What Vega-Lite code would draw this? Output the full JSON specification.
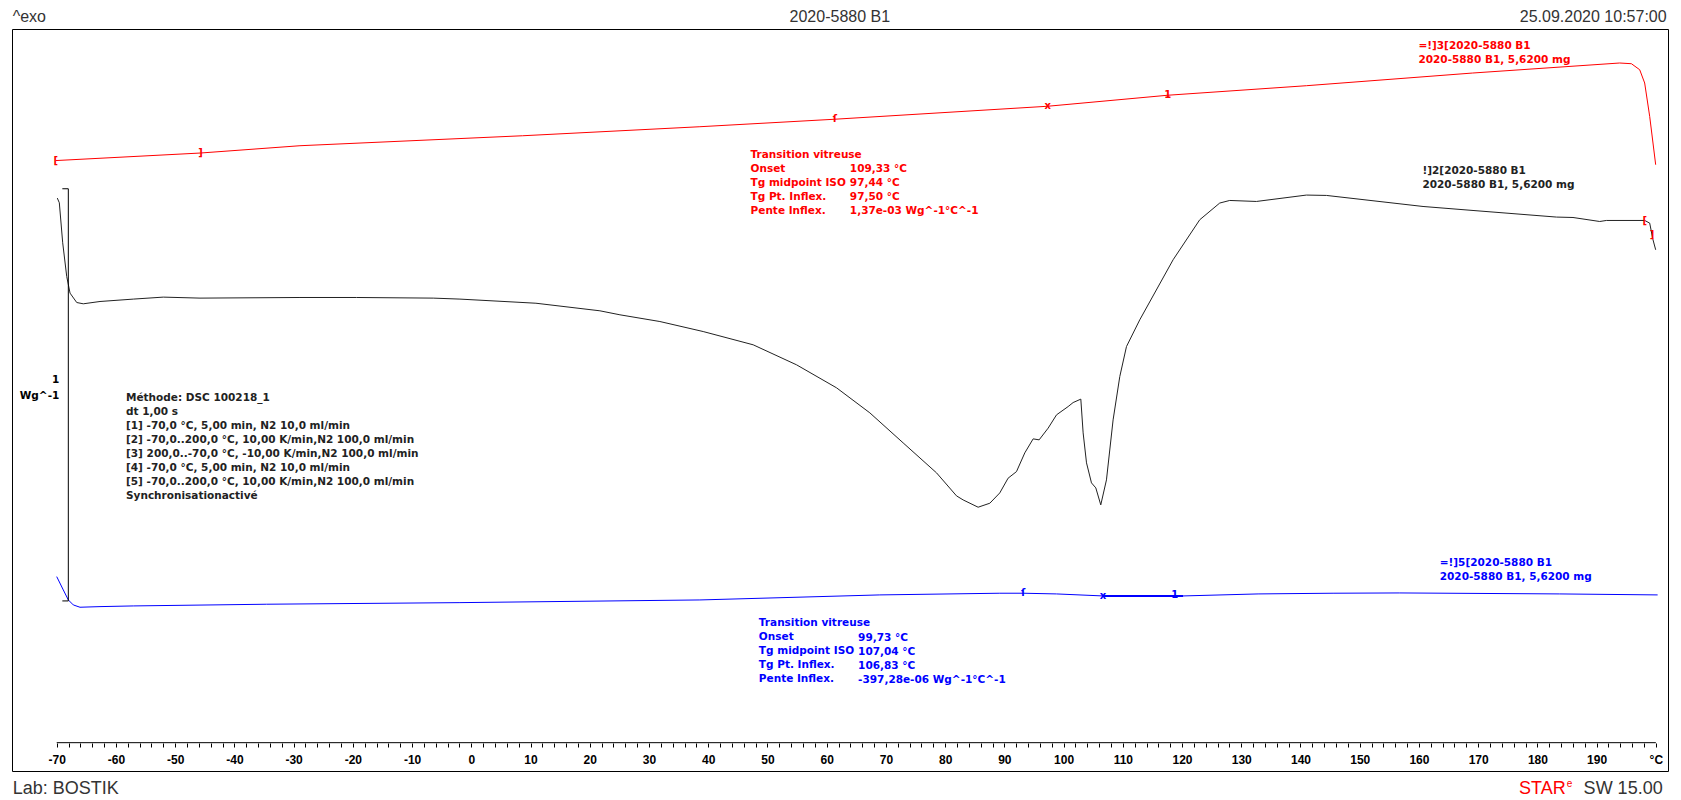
{
  "$schema": "https://vega.github.io/schema/vega-lite/v6.json",
  "autosize": {"type": "none"},
  "padding": {"left": 12, "top": 29, "right": 13, "bottom": 29},
  "width": 1656,
  "height": 742,
  "background": "white",
  "config": {
    "view": {"stroke": "#000000", "strokeWidth": 1},
    "text": {"font": "Liberation Sans"}
  },
  "datasets": {
    "curves": [
      {"seg": "2", "T": -69.90, "hf": 0.9774}, {"seg": "2", "T": -69.56, "hf": 0.9660}, {"seg": "2", "T": -68.99, "hf": 0.8689},
      {"seg": "2", "T": -68.31, "hf": 0.7871}, {"seg": "2", "T": -67.75, "hf": 0.7468}, {"seg": "2", "T": -66.62, "hf": 0.7240},
      {"seg": "2", "T": -65.51, "hf": 0.7209}, {"seg": "2", "T": -62.69, "hf": 0.7265}, {"seg": "2", "T": -57.07, "hf": 0.7323},
      {"seg": "2", "T": -52.01, "hf": 0.7371}, {"seg": "2", "T": -45.81, "hf": 0.7347}, {"seg": "2", "T": -28.93, "hf": 0.7362},
      {"seg": "2", "T": -19.36, "hf": 0.7362}, {"seg": "2", "T": -6.43, "hf": 0.7347}, {"seg": "2", "T": -1.92, "hf": 0.7323},
      {"seg": "2", "T": 10.91, "hf": 0.7223}, {"seg": "2", "T": 21.71, "hf": 0.7039}, {"seg": "2", "T": 25.09, "hf": 0.6942},
      {"seg": "2", "T": 31.84, "hf": 0.6779}, {"seg": "2", "T": 39.15, "hf": 0.6536}, {"seg": "2", "T": 47.59, "hf": 0.6214},
      {"seg": "2", "T": 54.92, "hf": 0.5728}, {"seg": "2", "T": 61.67, "hf": 0.5170}, {"seg": "2", "T": 67.29, "hf": 0.4563},
      {"seg": "2", "T": 72.91, "hf": 0.3835}, {"seg": "2", "T": 78.55, "hf": 0.3107}, {"seg": "2", "T": 81.92, "hf": 0.2549},
      {"seg": "2", "T": 83.04, "hf": 0.2451}, {"seg": "2", "T": 85.57, "hf": 0.2274}, {"seg": "2", "T": 87.55, "hf": 0.2371},
      {"seg": "2", "T": 89.23, "hf": 0.2621}, {"seg": "2", "T": 90.63, "hf": 0.2978}, {"seg": "2", "T": 92.05, "hf": 0.3138},
      {"seg": "2", "T": 93.45, "hf": 0.3592}, {"seg": "2", "T": 94.86, "hf": 0.3932}, {"seg": "2", "T": 95.87, "hf": 0.3908},
      {"seg": "2", "T": 97.39, "hf": 0.4192}, {"seg": "2", "T": 98.81, "hf": 0.4515}, {"seg": "2", "T": 100.77, "hf": 0.4716},
      {"seg": "2", "T": 101.61, "hf": 0.4813}, {"seg": "2", "T": 102.91, "hf": 0.4896}, {"seg": "2", "T": 103.30, "hf": 0.4078},
      {"seg": "2", "T": 103.87, "hf": 0.3350}, {"seg": "2", "T": 104.71, "hf": 0.2864}, {"seg": "2", "T": 105.44, "hf": 0.2743},
      {"seg": "2", "T": 106.28, "hf": 0.2330}, {"seg": "2", "T": 107.24, "hf": 0.2937}, {"seg": "2", "T": 108.36, "hf": 0.4393},
      {"seg": "2", "T": 109.49, "hf": 0.5444}, {"seg": "2", "T": 110.62, "hf": 0.6172}, {"seg": "2", "T": 112.86, "hf": 0.6820},
      {"seg": "2", "T": 118.49, "hf": 0.8277}, {"seg": "2", "T": 122.99, "hf": 0.9248}, {"seg": "2", "T": 126.36, "hf": 0.9653},
      {"seg": "2", "T": 128.05, "hf": 0.9716}, {"seg": "2", "T": 132.56, "hf": 0.9692}, {"seg": "2", "T": 141.00, "hf": 0.9847},
      {"seg": "2", "T": 144.38, "hf": 0.9838}, {"seg": "2", "T": 160.69, "hf": 0.9570}, {"seg": "2", "T": 169.13, "hf": 0.9473},
      {"seg": "2", "T": 183.21, "hf": 0.9313}, {"seg": "2", "T": 186.01, "hf": 0.9303}, {"seg": "2", "T": 190.52, "hf": 0.9206},
      {"seg": "2", "T": 191.65, "hf": 0.9231}, {"seg": "2", "T": 198.11, "hf": 0.9231}, {"seg": "2", "T": 198.96, "hf": 0.9167},
      {"seg": "2", "T": 199.52, "hf": 0.8762}, {"seg": "2", "T": 199.97, "hf": 0.8519},
      {"seg": "3", "T": -70.17, "hf": 1.0684}, {"seg": "3", "T": -45.73, "hf": 1.0867}, {"seg": "3", "T": -28.93, "hf": 1.1044},
      {"seg": "3", "T": 8.66, "hf": 1.1286}, {"seg": "3", "T": 38.59, "hf": 1.1505}, {"seg": "3", "T": 61.38, "hf": 1.1687},
      {"seg": "3", "T": 97.34, "hf": 1.2002}, {"seg": "3", "T": 117.59, "hf": 1.2269}, {"seg": "3", "T": 141.00, "hf": 1.2500},
      {"seg": "3", "T": 169.07, "hf": 1.2808}, {"seg": "3", "T": 193.89, "hf": 1.3051}, {"seg": "3", "T": 195.87, "hf": 1.3034},
      {"seg": "3", "T": 197.27, "hf": 1.2888}, {"seg": "3", "T": 198.11, "hf": 1.2566}, {"seg": "3", "T": 198.96, "hf": 1.1755},
      {"seg": "3", "T": 199.97, "hf": 1.0583},
      {"seg": "5", "T": -70.00, "hf": 0.0590}, {"seg": "5", "T": -68.89, "hf": 0.0267}, {"seg": "5", "T": -68.04, "hf": 0.0024},
      {"seg": "5", "T": -67.20, "hf": -0.0097}, {"seg": "5", "T": -66.07, "hf": -0.0153}, {"seg": "5", "T": -62.69, "hf": -0.0138},
      {"seg": "5", "T": -57.07, "hf": -0.0121}, {"seg": "5", "T": -34.55, "hf": -0.0080}, {"seg": "5", "T": -1.92, "hf": -0.0041},
      {"seg": "5", "T": 38.59, "hf": 0.0024}, {"seg": "5", "T": 68.97, "hf": 0.0146}, {"seg": "5", "T": 89.23, "hf": 0.0187},
      {"seg": "5", "T": 93.16, "hf": 0.0187}, {"seg": "5", "T": 98.80, "hf": 0.0170}, {"seg": "5", "T": 106.67, "hf": 0.0121},
      {"seg": "5", "T": 120.18, "hf": 0.0121}, {"seg": "5", "T": 132.84, "hf": 0.0170}, {"seg": "5", "T": 145.50, "hf": 0.0187},
      {"seg": "5", "T": 156.76, "hf": 0.0194}, {"seg": "5", "T": 183.77, "hf": 0.0170}, {"seg": "5", "T": 200.30, "hf": 0.0146}
    ],
    "markers": [
      {"seg": "3", "T": -70.17, "hf": 1.0684, "g": "["},
      {"seg": "3", "T": -45.73, "hf": 1.0867, "g": "]"},
      {"seg": "3", "T": 61.38, "hf": 1.1687, "g": "ſ"},
      {"seg": "3", "T": 97.34, "hf": 1.2002, "g": "x"},
      {"seg": "3", "T": 117.59, "hf": 1.2269, "g": "1"},
      {"seg": "3", "T": 198.11, "hf": 0.9206, "g": "["},
      {"seg": "3", "T": 199.35, "hf": 0.8883, "g": "]"},
      {"seg": "5", "T": 93.16, "hf": 0.0194, "g": "ſ"},
      {"seg": "5", "T": 106.67, "hf": 0.0121, "g": "x"},
      {"seg": "5", "T": 118.78, "hf": 0.0146, "g": "1"}
    ],
    "notes": [
      {"seg": "2", "T": -58.30, "hf": 0.5036, "t": "Méthode: DSC 100218_1\ndt 1,00 s\n[1] -70,0 °C, 5,00 min,  N2 10,0 ml/min\n[2] -70,0..200,0 °C, 10,00 K/min,N2 100,0 ml/min\n[3] 200,0..-70,0 °C, -10,00 K/min,N2 100,0 ml/min\n[4] -70,0 °C, 5,00 min,  N2 10,0 ml/min\n[5] -70,0..200,0 °C, 10,00 K/min,N2 100,0 ml/min\nSynchronisationactivé"},
      {"seg": "3", "T": 47.15, "hf": 1.0934, "t": "Transition vitreuse\nOnset\nTg midpoint ISO\nTg Pt. Inflex.\nPente Inflex."},
      {"seg": "3", "T": 63.91, "hf": 1.0595, "t": "109,33 °C\n97,44 °C\n97,50 °C\n1,37e-03 Wg^-1°C^-1"},
      {"seg": "5", "T": 48.55, "hf": -0.0408, "t": "Transition vitreuse\nOnset\nTg midpoint ISO\nTg Pt. Inflex.\nPente Inflex."},
      {"seg": "5", "T": 65.31, "hf": -0.0772, "t": "99,73 °C\n107,04 °C\n106,83 °C\n-397,28e-06 Wg^-1°C^-1"},
      {"seg": "3", "T": 159.91, "hf": 1.3580, "t": "=!]3[2020-5880 B1\n2020-5880 B1, 5,6200 mg"},
      {"seg": "2", "T": 160.59, "hf": 1.0546, "t": "!]2[2020-5880 B1\n2020-5880 B1, 5,6200 mg"},
      {"seg": "5", "T": 163.51, "hf": 0.1032, "t": "=!]5[2020-5880 B1\n2020-5880 B1, 5,6200 mg"}
    ]
  },
  "layer": [
    {
      "data": {"name": "curves"},
      "mark": {"type": "line", "strokeWidth": 1},
      "encoding": {
        "x": {
          "field": "T", "type": "quantitative",
          "scale": {"domain": [-77.55, 202.05], "nice": false, "zero": false},
          "axis": {
            "title": null, "orient": "bottom", "offset": -28, "domain": false, "grid": false,
            "values": [-70,-68,-66,-64,-62,-60,-58,-56,-54,-52,-50,-48,-46,-44,-42,-40,-38,-36,-34,-32,-30,-28,-26,-24,-22,-20,-18,-16,-14,-12,-10,-8,-6,-4,-2,0,2,4,6,8,10,12,14,16,18,20,22,24,26,28,30,32,34,36,38,40,42,44,46,48,50,52,54,56,58,60,62,64,66,68,70,72,74,76,78,80,82,84,86,88,90,92,94,96,98,100,102,104,106,108,110,112,114,116,118,120,122,124,126,128,130,132,134,136,138,140,142,144,146,148,150,152,154,156,158,160,162,164,166,168,170,172,174,176,178,180,182,184,186,188,190,192,194,196,198,200],
            "tickCount": 300,
            "tickSize": 4, "tickColor": "#000000", "tickWidth": 1,
            "labelExpr": "datum.value == 200 ? '°C' : (datum.value % 10 == 0 ? '' + datum.value : '')",
            "labelFont": "Liberation Sans", "labelFontWeight": "bold", "labelFontSize": 12, "labelColor": "#000000",
            "labelPadding": 7, "labelOverlap": false, "labelBound": false, "labelFlush": false
          }
        },
        "y": {"field": "hf", "type": "quantitative", "scale": {"domain": [-0.4126, 1.3876], "nice": false, "zero": false}, "axis": null},
        "color": {"field": "seg", "type": "nominal", "scale": {"domain": ["2", "3", "5"], "range": ["#222222", "#ff0000", "#0000ff"]}, "legend": null}
      }
    },
    {
      "data": {"values": [{}]},
      "mark": {"type": "rule", "color": "#000000", "strokeWidth": 1},
      "encoding": {
        "x": {"datum": -70, "type": "quantitative"}, "x2": {"datum": 200},
        "y": {"datum": -0.3439, "type": "quantitative", "axis": null}
      }
    },
    {
      "data": {"values": [{}]},
      "mark": {"type": "rule", "color": "#000000", "strokeWidth": 1},
      "encoding": {
        "x": {"datum": -68.04, "type": "quantitative"},
        "y": {"datum": 0, "type": "quantitative", "axis": null}, "y2": {"datum": 1}
      }
    },
    {
      "data": {"values": [{}]},
      "mark": {"type": "rule", "color": "#000000", "strokeWidth": 1},
      "encoding": {
        "x": {"datum": -69.05, "type": "quantitative"}, "x2": {"datum": -68.04},
        "y": {"datum": 0, "type": "quantitative", "axis": null}
      }
    },
    {
      "data": {"values": [{}]},
      "mark": {"type": "rule", "color": "#000000", "strokeWidth": 1},
      "encoding": {
        "x": {"datum": -69.05, "type": "quantitative"}, "x2": {"datum": -68.04},
        "y": {"datum": 1, "type": "quantitative", "axis": null}
      }
    },
    {
      "data": {"values": [{}]},
      "mark": {"type": "rule", "color": "#0000ff", "strokeWidth": 2},
      "encoding": {
        "x": {"datum": 106.67, "type": "quantitative"}, "x2": {"datum": 120.18},
        "y": {"datum": 0.0121, "type": "quantitative", "axis": null}
      }
    },
    {
      "data": {"name": "markers"},
      "mark": {"type": "text", "font": "DejaVu Sans", "fontSize": 10, "fontWeight": "bold", "align": "center", "baseline": "middle"},
      "encoding": {
        "x": {"field": "T", "type": "quantitative"},
        "y": {"field": "hf", "type": "quantitative", "axis": null},
        "text": {"field": "g"},
        "color": {"field": "seg", "type": "nominal", "legend": null}
      }
    },
    {
      "data": {"name": "notes"},
      "mark": {"type": "text", "font": "DejaVu Sans", "fontSize": 10.5, "fontWeight": "bold", "align": "left", "baseline": "top", "lineBreak": "\n", "lineHeight": 14},
      "encoding": {
        "x": {"field": "T", "type": "quantitative"},
        "y": {"field": "hf", "type": "quantitative", "axis": null},
        "text": {"field": "t"},
        "color": {"field": "seg", "type": "nominal", "legend": null}
      }
    },
    {
      "data": {"values": [{}]},
      "mark": {"type": "text", "font": "DejaVu Sans", "fontSize": 10.5, "fontWeight": "bold", "align": "right", "baseline": "top", "lineBreak": "\n", "lineHeight": 16, "color": "#000000"},
      "encoding": {
        "x": {"datum": -69.56, "type": "quantitative"},
        "y": {"datum": 0.5473, "type": "quantitative", "axis": null},
        "text": {"value": "1\nWg^-1"}
      }
    },
    {
      "data": {"values": [{}]},
      "mark": {"type": "text", "fontSize": 16, "align": "left", "baseline": "alphabetic", "color": "#333333"},
      "encoding": {
        "x": {"datum": -77.43, "type": "quantitative"},
        "y": {"datum": 1.4053, "type": "quantitative", "axis": null},
        "text": {"value": "^exo"}
      }
    },
    {
      "data": {"values": [{}]},
      "mark": {"type": "text", "fontSize": 16, "align": "center", "baseline": "alphabetic", "color": "#333333"},
      "encoding": {
        "x": {"datum": 62.22, "type": "quantitative"},
        "y": {"datum": 1.4053, "type": "quantitative", "axis": null},
        "text": {"value": "2020-5880 B1"}
      }
    },
    {
      "data": {"values": [{}]},
      "mark": {"type": "text", "fontSize": 16, "align": "right", "baseline": "alphabetic", "color": "#333333"},
      "encoding": {
        "x": {"datum": 201.82, "type": "quantitative"},
        "y": {"datum": 1.4053, "type": "quantitative", "axis": null},
        "text": {"value": "25.09.2020 10:57:00"}
      }
    },
    {
      "data": {"values": [{}]},
      "mark": {"type": "text", "fontSize": 18, "align": "left", "baseline": "alphabetic", "color": "#333333"},
      "encoding": {
        "x": {"datum": -77.43, "type": "quantitative"},
        "y": {"datum": -0.4684, "type": "quantitative", "axis": null},
        "text": {"value": "Lab: BOSTIK"}
      }
    },
    {
      "data": {"values": [{}]},
      "mark": {"type": "text", "fontSize": 18, "align": "right", "baseline": "alphabetic", "color": "#333333"},
      "encoding": {
        "x": {"datum": 201.15, "type": "quantitative"},
        "y": {"datum": -0.4684, "type": "quantitative", "axis": null},
        "text": {"value": "SW 15.00"}
      }
    },
    {
      "data": {"values": [{}]},
      "mark": {"type": "text", "fontSize": 18, "align": "right", "baseline": "alphabetic", "color": "#ff0000"},
      "encoding": {
        "x": {"datum": 184.78, "type": "quantitative"},
        "y": {"datum": -0.4684, "type": "quantitative", "axis": null},
        "text": {"value": "STAR"}
      }
    },
    {
      "data": {"values": [{}]},
      "mark": {"type": "text", "fontSize": 10, "align": "left", "baseline": "alphabetic", "color": "#ff0000"},
      "encoding": {
        "x": {"datum": 184.95, "type": "quantitative"},
        "y": {"datum": -0.4515, "type": "quantitative", "axis": null},
        "text": {"value": "e"}
      }
    }
  ]
}
